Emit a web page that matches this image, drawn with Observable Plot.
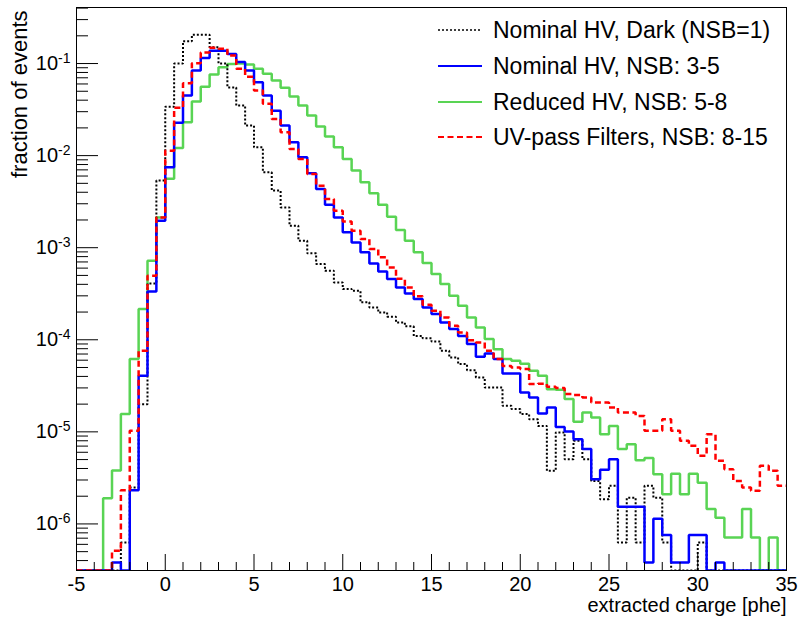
<!DOCTYPE html>
<html>
<head>
<meta charset="utf-8">
<script src="https://cdn.jsdelivr.net/npm/d3@7"></script>
<script src="https://cdn.jsdelivr.net/npm/@observablehq/plot@0.6"></script>
<style>
  html, body { margin: 0; padding: 0; background: #fff; }
  #chart { width: 798px; height: 621px; overflow: hidden; }
</style>
</head>
<body>
<div id="chart"></div>
<script>
// ---------- data ----------
// 80 bins of width 0.5 phe, from -5 to 35
const binEdges = d3.range(0, 81).map(i => -5 + 0.5 * i);

const seriesNames = [
  "Nominal HV, Dark (NSB=1)",
  "Nominal HV, NSB: 3-5",
  "Reduced HV, NSB: 5-8",
  "UV-pass Filters, NSB: 8-15"
];

// fraction of events per bin
const darkNSB1 = [
  0, 0, 0, 0, 0, 6.3e-7, 2.48e-6, 2.0e-5, 4.09e-4, 5.35e-3,
  3.4e-2, 0.1, 0.175, 0.205, 0.205, 0.15, 0.1, 5.5e-2, 3.5e-2, 2.12e-2,
  1.23e-2, 6.59e-3, 4.17e-3, 2.74e-3, 1.73e-3, 1.19e-3, 8.7e-4, 6.65e-4, 5.62e-4, 4.2e-4,
  3.56e-4, 3.41e-4, 2.55e-4, 2.24e-4, 1.98e-4, 1.78e-4, 1.54e-4, 1.4e-4, 1.1e-4, 1.04e-4,
  9.6e-5, 7.6e-5, 6.43e-5, 5.45e-5, 4.68e-5, 3.9e-5, 3.03e-5, 3.03e-5, 1.92e-5, 1.77e-5,
  1.56e-5, 1.37e-5, 1.16e-5, 3.77e-6, 9.84e-6, 5.05e-6, 7.98e-6, 5.05e-6, 2.93e-6, 1.85e-6,
  2.59e-6, 6.3e-7, 1.93e-6, 6.3e-7, 2.59e-6, 1.93e-6, 6.3e-7, 0, 0, 0,
  6.3e-7, 0, 0, 0, 0, 0, 0, 0, 0, 0
];
const nominalNSB3to5 = [
  0, 0, 0, 0, 3.8e-7, 0, 2.32e-6, 4.06e-5, 3.35e-4, 1.96e-3,
  7.46e-3, 2.27e-2, 4.49e-2, 8.4e-2, 0.115, 0.138, 0.138, 0.127, 0.104, 8.4e-2,
  6.27e-2, 4.49e-2, 3.08e-2, 2.12e-2, 1.40e-2, 9.6e-3, 6.43e-3, 4.35e-3, 2.93e-3, 2.13e-3,
  1.47e-3, 1.14e-3, 8.9e-4, 6.75e-4, 5.52e-4, 4.56e-4, 3.7e-4, 3.18e-4, 2.77e-4, 2.24e-4,
  1.9e-4, 1.54e-4, 1.31e-4, 1.1e-4, 8.98e-5, 6.53e-5, 7.1e-5, 6.17e-5, 4.3e-5, 4.3e-5,
  2.67e-5, 2.36e-5, 1.58e-5, 1.84e-5, 1.13e-5, 1.01e-5, 8.3e-6, 6.5e-6, 3.06e-6, 3.87e-6,
  5.05e-6, 1.54e-6, 1.54e-6, 1.54e-6, 3.8e-7, 1.14e-6, 7.6e-7, 3.8e-7, 3.8e-7, 7.6e-7,
  7.6e-7, 0, 3.8e-7, 0, 0, 0, 0, 0, 0, 0
];
const reducedNSB5to8 = [
  0, 0, 0, 1.9e-6, 3.8e-6, 1.56e-5, 6.2e-5, 2.16e-4, 7.2e-4, 2.13e-3,
  5.6e-3, 1.21e-2, 2.3e-2, 3.86e-2, 5.6e-2, 7.6e-2, 9.1e-2, 9.9e-2, 0.1, 9.75e-2,
  8.75e-2, 7.73e-2, 6.53e-2, 5.45e-2, 4.38e-2, 3.5e-2, 2.72e-2, 2.07e-2, 1.61e-2, 1.23e-2,
  9.2e-3, 6.87e-3, 5.13e-3, 3.89e-3, 2.93e-3, 2.17e-3, 1.56e-3, 1.19e-3, 8.9e-4, 6.84e-4,
  5.18e-4, 4.03e-4, 3.01e-4, 2.34e-4, 1.75e-4, 1.36e-4, 1.02e-4, 7.9e-5, 6.2e-5, 5.9e-5,
  5.5e-5, 4.6e-5, 4.06e-5, 2.91e-5, 2.86e-5, 2.27e-5, 1.29e-5, 1.62e-5, 1.43e-5, 9.4e-6,
  1.16e-5, 6.5e-6, 7.35e-6, 4.9e-6, 5.2e-6, 3.47e-6, 2.1e-6, 3.5e-6, 2.1e-6, 3.5e-6,
  2.8e-6, 1.45e-6, 1.17e-6, 7.1e-7, 7.1e-7, 1.45e-6, 7.1e-7, 0, 7.1e-7, 0
];
const uvFiltersNSB8to15 = [
  0, 0, 0, 0, 5.1e-7, 2.32e-6, 1.03e-5, 7.6e-5, 4.97e-4, 2.13e-3,
  1.13e-2, 3.3e-2, 6.1e-2, 0.101, 0.132, 0.148, 0.145, 0.122, 8.8e-2, 7.2e-2,
  5.09e-2, 3.65e-2, 2.5e-2, 1.79e-2, 1.18e-2, 9.2e-3, 6.33e-3, 4.72e-3, 3.38e-3, 2.52e-3,
  1.93e-3, 1.53e-3, 1.24e-3, 9.7e-4, 7.85e-4, 6.1e-4, 4.6e-4, 3.7e-4, 2.97e-4, 2.4e-4,
  2.07e-4, 1.75e-4, 1.42e-4, 1.2e-4, 9.9e-5, 9.35e-5, 7.6e-5, 6.17e-5, 5.2e-5, 5.0e-5,
  4.8e-5, 3.3e-5, 3.33e-5, 3.08e-5, 3.0e-5, 2.57e-5, 2.52e-5, 2.36e-5, 2.08e-5, 2.08e-5,
  1.84e-5, 1.62e-5, 1.62e-5, 1.49e-5, 1.03e-5, 1.03e-5, 1.37e-5, 1.03e-5, 7.98e-6, 7.05e-6,
  5.5e-6, 9.4e-6, 4.84e-6, 3.93e-6, 2.93e-6, 2.48e-6, 2.29e-6, 4.27e-6, 3.77e-6, 2.59e-6
];

// axis ticks
const xMajorTicks = [-5, 0, 5, 10, 15, 20, 25, 30, 35];
const xMinorTicks = d3.range(-5, 36).filter(v => v % 5 !== 0);
const yMajorTicks = [1e-6, 1e-5, 1e-4, 1e-3, 1e-2, 1e-1];
const yMinorTicks = [];
for (let e = -7; e <= -1; e++) for (let k = 2; k <= 9; k++) yMinorTicks.push(k * Math.pow(10, e));

const yMin = 3.12e-7, yMax = 0.406;
const xTitle = "extracted charge [phe]";
const yTitle = "fraction of events";

// ---------- build ----------
function steps(values) {
  const pts = [];
  values.forEach((v, i) => {
    const y = Math.max(v, yMin);
    pts.push({x: binEdges[i], y}, {x: binEdges[i + 1], y});
  });
  return pts;
}

const W = 798, H = 621, mL = 76, mR = 12, mT = 7, mB = 51;
const plotW = W - mL - mR, plotH = H - mT - mB;
const FONT = "'Liberation Sans', Arial, Helvetica, sans-serif";

const styles = [
  {data: darkNSB1, stroke: "#000000", strokeWidth: 2, dash: "2,2"},
  {data: nominalNSB3to5, stroke: "#0000ff", strokeWidth: 2.5, dash: null},
  {data: reducedNSB5to8, stroke: "#59d454", strokeWidth: 2.5, dash: null},
  {data: uvFiltersNSB8to15, stroke: "#ff0000", strokeWidth: 2.5, dash: "6,3.5"}
];
const drawOrder = [2, 0, 1, 3];

const svg = Plot.plot({
  width: W, height: H,
  marginLeft: mL, marginRight: mR, marginTop: mT, marginBottom: mB,
  style: {fontFamily: FONT, background: "white", overflow: "visible"},
  x: {domain: [-5, 35], label: null},
  y: {type: "log", domain: [yMin, yMax], label: null},
  marks: [
    ...drawOrder.map(i => Plot.line(steps(styles[i].data), {
      x: "x", y: "y", stroke: styles[i].stroke, strokeWidth: styles[i].strokeWidth,
      strokeDasharray: styles[i].dash, strokeLinejoin: "miter", strokeLinecap: "butt", clip: true
    })),
    Plot.frame({stroke: "black", strokeWidth: 1}),
    // inward ticks
    Plot.tickX(xMinorTicks, {x: d => d, insetTop: plotH - 8, stroke: "black", strokeWidth: 1}),
    Plot.tickX(xMajorTicks, {x: d => d, insetTop: plotH - 16, stroke: "black", strokeWidth: 1}),
    Plot.tickY(yMinorTicks.filter(v => v >= yMin && v <= yMax), {y: d => d, insetRight: plotW - 12, stroke: "black", strokeWidth: 1}),
    Plot.tickY(yMajorTicks, {y: d => d, insetRight: plotW - 22, stroke: "black", strokeWidth: 1}),
    Plot.axisX(xMajorTicks, {tickSize: 0, tickPadding: 6, fontSize: 20, tickFormat: d => String(d), label: null, fill: "black"}),
    Plot.axisY(yMajorTicks, {tickSize: 0, tickPadding: 6, fontSize: 20, tickFormat: d => "10^" + Math.round(Math.log10(d)), label: null, fill: "black"}),
    Plot.text([xTitle], {text: d => d, frameAnchor: "bottom-right", textAnchor: "end", lineAnchor: "middle", dy: 35, fontSize: 20, fill: "black"}),
    Plot.text([yTitle], {text: d => d, frameAnchor: "top-left", rotate: -90, textAnchor: "end", lineAnchor: "middle", dx: -57, dy: 3, fontSize: 22, fill: "black"})
  ]
});

// superscript exponents on the y tick labels
d3.select(svg).selectAll("text").each(function () {
  const t = this.textContent;
  if (/^10\^/.test(t)) {
    const exp = t.slice(3);
    const sel = d3.select(this);
    sel.text(null);
    sel.append("tspan").text("10");
    sel.append("tspan").attr("dy", "-0.5em").attr("font-size", "14px").text(exp);
  }
});

// legend (inside the frame, top right)
const lg = d3.select(svg).append("g").attr("font-family", FONT).attr("text-anchor", "start");
const legendY = [30, 66, 102, 137];
seriesNames.forEach((name, i) => {
  const s = styles[i];
  lg.append("line")
    .attr("x1", 438).attr("x2", 482).attr("y1", legendY[i]).attr("y2", legendY[i])
    .attr("stroke", s.stroke).attr("stroke-width", s.strokeWidth - 0.5)
    .attr("stroke-dasharray", s.dash);
  lg.append("text")
    .attr("x", 493).attr("y", legendY[i]).attr("dy", "0.35em")
    .attr("text-anchor", "start")
    .attr("font-size", 23).attr("fill", "black").text(name);
});

document.getElementById("chart").appendChild(svg);
</script>
</body>
</html>
